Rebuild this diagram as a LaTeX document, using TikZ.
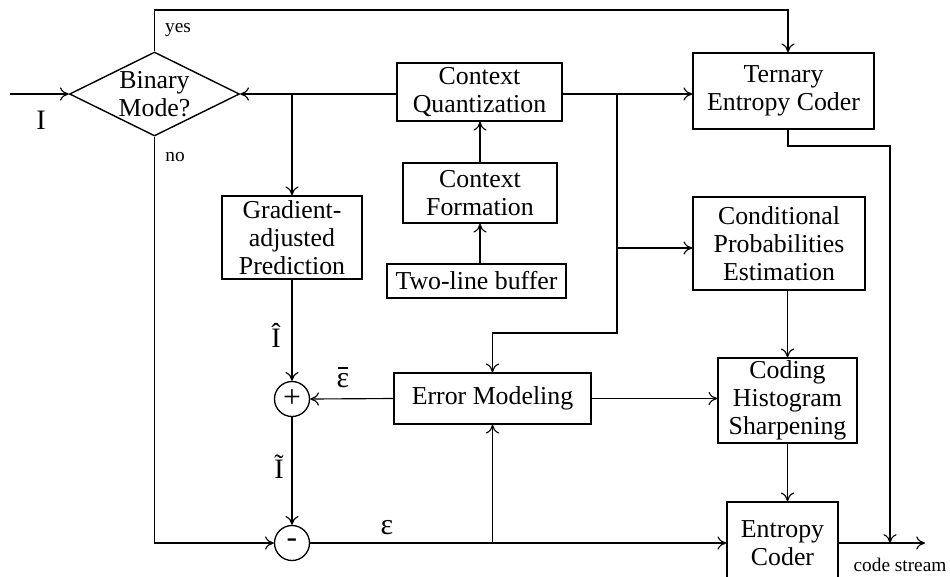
\documentclass[tikz,border=0pt]{standalone}
\usepackage{fontspec}
\setmainfont{Liberation Serif}
\usetikzlibrary{shapes.geometric,arrows.meta}

% epsilon with a bar over it
\newcommand\epsbar{\ooalign{ε\cr\hidewidth\raisebox{0.62em}{\rule{0.34em}{0.055em}}\hidewidth\cr}}

\begin{document}
\begin{tikzpicture}[x=0.02cm,y=-0.02cm,
  box/.style={draw,line width=0.8pt,align=center,inner sep=0pt,
    font=\fontsize{14.7}{16}\selectfont},
  conn/.style={line width=0.65pt},
  arr/.style={conn,-{To[length=5pt,width=7.5pt]}},
  tag/.style={font=\fontsize{11}{12}\selectfont,inner sep=0pt},
  sym/.style={font=\fontsize{16}{17}\selectfont,inner sep=0pt},
  sumnode/.style={draw,circle,line width=0.75pt,minimum size=0.7cm,inner sep=0pt,
    font=\fontsize{18}{18}\selectfont}]
\useasboundingbox (0,0) rectangle (950,576);
\clip (0,0) rectangle (950,576);

% decision
\node[draw,diamond,line width=0.8pt,minimum width=3.4cm,minimum height=1.68cm,inner sep=0pt]
  (mode) at (154.5,94) {};
\node[align=center,inner sep=0pt,font=\fontsize{14.7}{16}\selectfont] (modetext) at (mode) {Binary\\Mode?};

% processing blocks
\node[box,minimum width=3.3cm,minimum height=1.16cm]  (cq)  at (479.5,92)  {Context\\Quantization};
\node[box,minimum width=3.62cm,minimum height=1.52cm] (tec) at (783.5,91)  {Ternary\\Entropy Coder};
\node[box,minimum width=3.08cm,minimum height=1.2cm]  (cf)  at (480,193)   {Context\\Formation};
\node[box,minimum width=3.58cm,minimum height=0.68cm] (tlb) at (476.5,281) {Two-line buffer};
\node[box,minimum width=2.8cm,minimum height=1.66cm]  (gap) at (292,237.5) {Gradient-\\adjusted\\Prediction};
\node[box,minimum width=3.44cm,minimum height=1.86cm] (cpe) at (779,243.5) {Conditional\\Probabilities\\Estimation};
\node[box,minimum width=3.94cm,minimum height=1.02cm] (em)  at (492.5,398.5) {Error Modeling};
\node[box,minimum width=2.78cm,minimum height=1.7cm]  (chs) at (787.5,400.5) {Coding\\Histogram\\Sharpening};
\node[box,minimum width=2.22cm,minimum height=1.64cm] (ec)  at (782.5,543) {Entropy\\Coder};

% adders
\node[sumnode] (plus)  at (292,399) {+};
\node[sumnode] (minus) at (292,543) {-};

% junctions and free ends
\coordinate (inp)   at (10,94);
\coordinate (ytop)  at (788,10);
\coordinate (br)    at (617,94);
\coordinate (brmid) at (617,248);
\coordinate (brlow) at (617,333);
\coordinate (rt)    at (890,146);
\coordinate (cs)    at (925,543);

% connectors
\draw[arr] (inp) -- (mode.west);
\draw[arr] (mode.north) |- (ytop) -- (ytop |- tec.north);
\draw[arr] (cq.west |- mode.east) -- (mode.east);
\draw[arr] (cq.east |- mode.east) -- (tec.west |- mode.east);
\draw[arr] (gap.north |- mode.east) -- (gap.north);
\draw[arr] (cf.north) -- (cf.north |- cq.south);
\draw[arr] (tlb.north -| cf.south) -- (cf.south);
\draw[arr] (br) -- (brlow) -| (em.north);
\draw[arr] (brmid) -- (brmid -| cpe.west);
\draw[arr] (cpe.south -| chs.north) -- (chs.north);
\draw[arr] (chs.south) -- (chs.south |- ec.north);
\draw[arr] (em.east) -- (em.east -| chs.west);
\draw[arr] (em.west) -- (plus.east);
\draw[arr] (gap.south) -- (plus.north);
\draw[arr] (plus.south) -- (minus.north);
\draw[arr] (mode.south) |- (minus.west);
\draw[arr] (minus.east) -- (minus.east -| ec.west);
\draw[arr] (em.south |- minus.east) -- (em.south);
\draw[arr] (tec.south -| ytop) |- (rt) -- (rt |- ec.east);
\draw[arr] (ec.east) -- (cs);

% labels
\node[sym] (lin)  at (41,120)  {I};
\node[tag] (lyes) at (178,30)  {yes};
\node[tag] (lno)  at (175,157) {no};
\node[sym] (lhat) at (276,335) {Î};
\node[sym,font=\fontsize{17}{18}\selectfont] (lebar) at (343,380) {\epsbar};
\node[sym] (ltil) at (279,467) {Ĩ};
\node[sym,font=\fontsize{17}{18}\selectfont] (leps) at (387,528) {ε};
\node[tag] (lcs)  at (900,565) {code stream};
\end{tikzpicture}
\end{document}
